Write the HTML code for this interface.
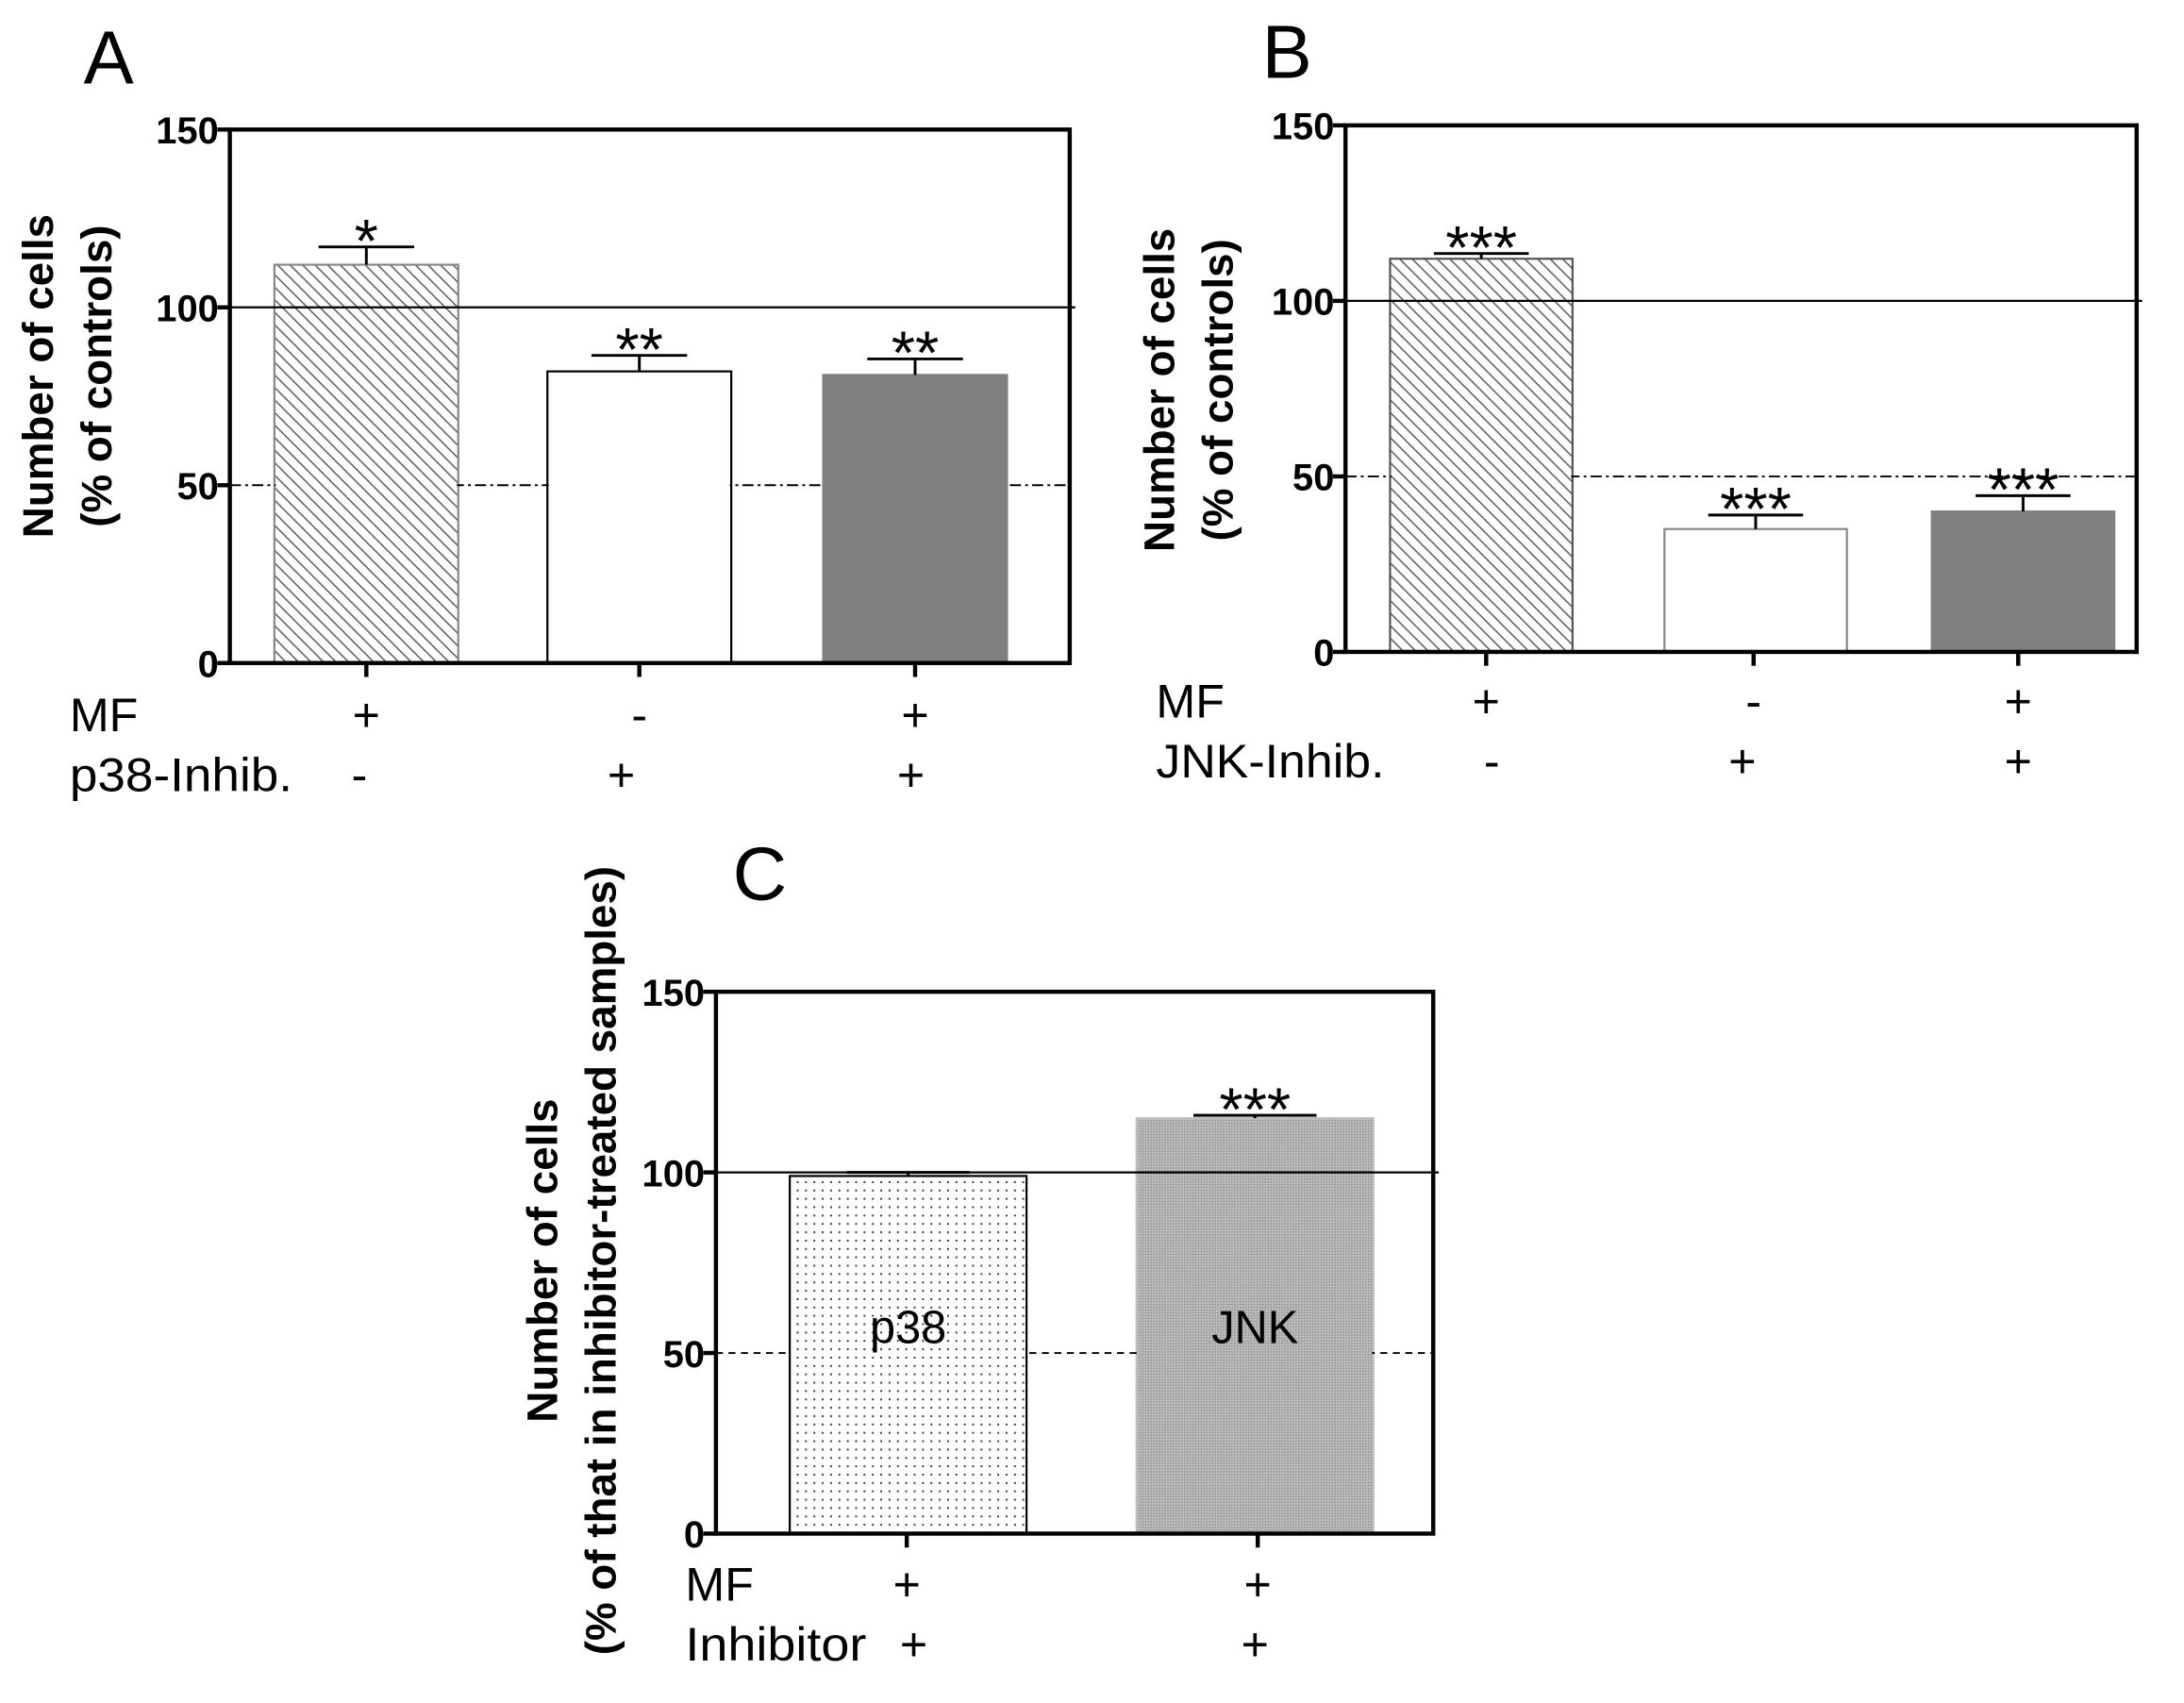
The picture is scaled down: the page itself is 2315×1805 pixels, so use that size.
<!DOCTYPE html>
<html><head><meta charset="utf-8">
<style>
html,body{margin:0;padding:0;background:#fff;}
svg{display:block;font-family:"Liberation Sans",Arial,sans-serif;}
.tick{font-size:27px;font-weight:bold;}
.ttl{font-size:31px;font-weight:bold;}
.row{font-size:34px;}
.star{font-size:44px;}
</style></head>
<body>
<svg id="fig" width="2315" height="1805" viewBox="0 0 1568 1222.6" xmlns="http://www.w3.org/2000/svg">
<defs>
<pattern id="hatch" width="9" height="9" patternUnits="userSpaceOnUse">
<rect width="9" height="9" fill="#fff"/>
<path d="M-2,-2 L11,11 M-2,7 L2,11 M7,-2 L11,2" stroke="#555" stroke-width="1"/>
</pattern>
<pattern id="dots" width="6" height="6" patternUnits="userSpaceOnUse">
<rect width="6" height="6" fill="#fff"/>
<rect x="2" y="2" width="1.3" height="1.3" fill="#333"/>
</pattern>
<pattern id="fine" width="2" height="2" patternUnits="userSpaceOnUse">
<rect width="2" height="2" fill="#bdbdbd"/>
<rect width="1" height="1" fill="#8a8a8a"/>
</pattern>
</defs>
<g id="root"></g>
</svg>
<script>
const catsA = ["MF+/p38-", "MF-/p38+", "MF+/p38+"];
const valsA = [112, 82, 81];
const errA = [5, 4.5, 4.5];
const starsA = ["*", "**", "**"];
const row1A = ["+", "-", "+"];
const row2A = ["-", "+", "+"];

const catsB = ["MF+/JNK-", "MF-/JNK+", "MF+/JNK+"];
const valsB = [112, 35, 40];
const errB = [1.5, 4, 4.5];
const starsB = ["***", "***", "***"];
const row1B = ["+", "-", "+"];
const row2B = ["-", "+", "+"];

const catsC = ["p38", "JNK"];
const valsC = [99, 115];
const errC = [1, 0.8];
const starsC = ["", "***"];
const row1C = ["+", "+"];
const row2C = ["+", "+"];

const yTicks = [0, 50, 100, 150];

const NS = "http://www.w3.org/2000/svg";
const root = document.getElementById("root");
function mk(tag, attrs, parent, text) {
  const e = document.createElementNS(NS, tag);
  for (const k in attrs) e.setAttribute(k, attrs[k]);
  if (text !== undefined) e.textContent = text;
  (parent || root).appendChild(e);
  return e;
}

function panel(cfg) {
  const g = mk("g", {});
  
  
  const y = v => cfg.y0 - (v / 150) * (cfg.y0 - cfg.y1);
  const L = mk("text", {x: cfg.letterX, y: cfg.letterY, "font-size": 54}, g, cfg.letter);
  
  
  cfg.vals.forEach((v, i) => {
    const xl = cfg.barX[i], w = cfg.barW;
    const r = mk("rect", {x: xl, y: y(v), width: w, height: y(0) - y(v), fill: cfg.fills[i], stroke: cfg.strokes[i], "stroke-width": 1.5}, g);
    
    
  });
  const r100 = mk("line", {x1: cfg.x0, x2: cfg.x1 + 4, y1: y(100), y2: y(100), stroke: "#000", "stroke-width": 1.5}, g);
  
  
  const r50 = mk("line", {x1: cfg.x0, x2: cfg.x1, y1: y(50), y2: y(50), stroke: "#000", "stroke-width": 1.3, "stroke-dasharray": cfg.dash}, g);
  
  
  cfg.vals.forEach((v, i) => {
    const xl = cfg.barX[i], w = cfg.barW, cx = xl + w / 2;
    if (v > 50) {
      const m = mk("rect", {x: xl + 1, y: y(50) - 2, width: w - 2, height: 4, fill: cfg.fills[i]}, g);
      
      
    }
    if (cfg.inLabel) {
      const t = mk("text", {x: cx, y: y(50) - 7, "text-anchor": "middle", "font-size": 33}, g, cfg.cats[i]);
      
      
    }
    const top = y(v + cfg.err[i]);
    const eb = mk("path", {d: `M${cx},${y(v)} V${top} M${cx - w * 0.26},${top} H${cx + w * 0.26}`, stroke: "#000", "stroke-width": 2, fill: "none"}, g);
    
    
    if (cfg.stars[i]) {
      const s = mk("text", {x: cx, y: top + 11, "text-anchor": "middle", class: "star"}, g, cfg.stars[i]);
      
      
    }
  });
  const f = mk("rect", {x: cfg.x0, y: cfg.y1, width: cfg.x1 - cfg.x0, height: cfg.y0 - cfg.y1, fill: "none", stroke: "#000", "stroke-width": 3}, g);
  
  
  yTicks.forEach(t => {
    const l = mk("line", {x1: cfg.x0 - 9, x2: cfg.x0, y1: y(t), y2: y(t), stroke: "#000", "stroke-width": 3}, g);
    
    
    const tx = mk("text", {x: cfg.x0 - 8, y: y(t) + 10, "text-anchor": "end", class: "tick"}, g, String(t));
    
    
  });
  cfg.catX.forEach((cx, i) => {
    const l = mk("line", {x1: cx, x2: cx, y1: cfg.y0, y2: cfg.y0 + 10, stroke: "#000", "stroke-width": 3}, g);
    
    
    const a = mk("text", {x: cx, y: cfg.row1Y, "text-anchor": "middle", class: "row"}, g, cfg.row1[i]);
    
    
    const b = mk("text", {x: cx - (cfg.row2Shift ? cfg.row2Shift[i] : 0), y: cfg.row2Y, "text-anchor": "middle", class: "row"}, g, cfg.row2[i]);
    
    
  });
  const rl1 = mk("text", {x: cfg.rowLX, y: cfg.row1Y, class: "row"}, g, "MF");
  
  
  const rl2 = mk("text", {x: cfg.rowLX, y: cfg.row2Y, class: "row", textLength: cfg.row2Len, lengthAdjust: "spacingAndGlyphs"}, g, cfg.row2Label);
  
  
  const yt = mk("text", {transform: `translate(${cfg.titleX},${cfg.titleY}) rotate(-90)`, "text-anchor": "middle", class: "ttl"}, g);
  
  
  mk("tspan", {x: 0, y: 0}, yt, cfg.title1);
  mk("tspan", {x: 0, y: 42}, yt, cfg.title2);
}

panel({name: "panel-a", letter: "A", letterX: 60, letterY: 60, x0: 165, x1: 768, y0: 476, y1: 93,
  vals: valsA, err: errA, stars: starsA, cats: catsA, barX: [197, 393, 591], barW: 132,
  fills: ["url(#hatch)", "#fff", "#808080"], strokes: ["#888", "#000", "#808080"], dash: "8,3,2,3",
  catX: [263, 459, 657], row1: row1A, row2: row2A, row2Shift: [5, 13, 3], row1Y: 525, row2Y: 568,
  rowLX: 50, row2Label: "p38-Inhib.", row2Len: 160, titleX: 38, titleY: 270, title1: "Number of cells", title2: "(% of controls)"});

panel({name: "panel-b", letter: "B", letterX: 906, letterY: 56, x0: 966, x1: 1534, y0: 468, y1: 90,
  vals: valsB, err: errB, stars: starsB, cats: catsB, barX: [998, 1195, 1387], barW: 131,
  fills: ["url(#hatch)", "#fff", "#808080"], strokes: ["#555", "#888", "#808080"], dash: "8,3,2,3",
  catX: [1067, 1259, 1449], row1: row1B, row2: row2B, row2Shift: [-4, 8, 0], row1Y: 515, row2Y: 558,
  rowLX: 830, row2Label: "JNK-Inhib.", row2Len: 164, titleX: 843, titleY: 280, title1: "Number of cells", title2: "(% of controls)"});

panel({name: "panel-c", letter: "C", letterX: 526, letterY: 646, x0: 514, x1: 1029, y0: 1101, y1: 712,
  vals: valsC, err: errC, stars: starsC, cats: catsC, barX: [567, 816], barW: 170, inLabel: true,
  fills: ["url(#dots)", "url(#fine)"], strokes: ["#000", "#bdbdbd"], dash: "5,4",
  catX: [651, 903], row1: row1C, row2: row2C, row2Shift: [-5, 2], row1Y: 1149, row2Y: 1192,
  rowLX: 492, row2Label: "Inhibitor", row2Len: 130, titleX: 400, titleY: 905, title1: "Number of cells", title2: "(% of that in inhibitor-treated samples)"});
</script>
</body></html>
